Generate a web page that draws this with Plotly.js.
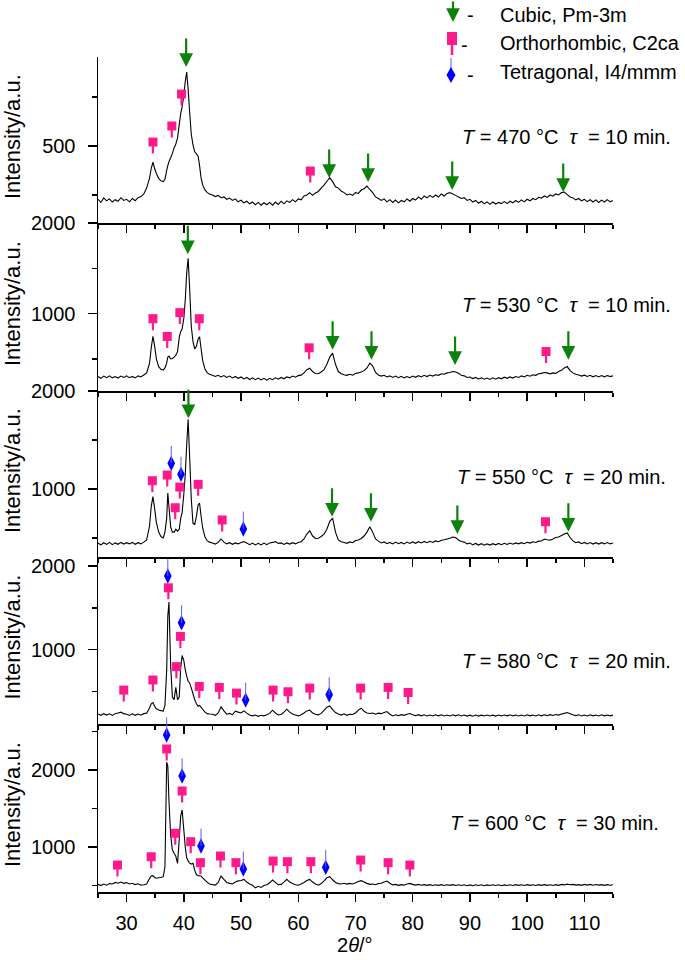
<!DOCTYPE html>
<html><head><meta charset="utf-8">
<script src="https://cdn.plot.ly/plotly-3.0.1.min.js"></script>
<style>html,body{margin:0;padding:0;background:#fff;} #chart{width:685px;height:960px;}</style>
</head><body><div id="chart"></div>
<script>
// ---------- DATA ----------
const twoTheta = [
25,25.5,26,26.5,27,27.5,28,28.5,29,29.5,
30,30.5,31,31.5,32,32.5,33,
33.5,34,34.3,34.6,34.9,35.2,35.6,36,36.4,36.7,
37,37.2,37.4,37.7,38,38.3,38.6,38.9,39.2,39.45,
39.7,40,40.25,40.5,40.75,41,41.3,41.6,41.9,42.2,
42.5,42.75,43,43.3,43.7,44.1,44.5,
45,45.5,46,46.5,47,47.5,48,48.5,49,49.5,
50,50.5,51,51.5,52,52.5,53,53.5,54,54.5,
55,55.5,56,56.5,57,57.5,58,58.5,59,59.5,
60,60.5,61,61.5,62,62.5,63,63.5,64,64.5,
65,65.5,66,66.5,67,67.5,68,68.5,69,69.5,
70,70.5,71,71.5,72,72.5,73,73.5,74,74.5,
75,75.5,76,76.5,77,77.5,78,78.5,79,79.5,
80,80.5,81,81.5,82,82.5,83,83.5,84,84.5,
85,85.5,86,86.5,87,87.5,88,88.5,89,89.5,
90,90.5,91,91.5,92,92.5,93,93.5,94,94.5,
95,95.5,96,96.5,97,97.5,98,98.5,99,99.5,
100,100.5,101,101.5,102,102.5,103,103.5,104,104.5,
105,105.5,106,106.5,107,107.5,108,108.5,109,109.5,
110,110.5,111,111.5,112,112.5,113,113.5,114,114.5,
115];

const intensity470 = [
228,212,235,220,230,214,226,218,236,222,
228,215,232,221,236,242,255,
285,335,385,418,385,360,335,322,318,330,
375,400,420,440,462,490,510,540,610,665,
700,760,830,877,790,680,560,505,470,460,
448,400,340,300,276,262,255,
250,242,248,236,240,228,234,222,230,215,
224,210,218,205,214,200,212,198,210,200,
212,198,214,202,218,205,220,212,226,215,
230,225,245,250,262,248,260,268,285,300,
320,338,318,292,285,270,262,250,255,248,
262,258,275,282,295,278,262,240,232,222,
230,215,226,212,224,210,222,215,230,218,
232,224,240,228,245,235,248,238,250,240,
255,245,258,262,255,248,240,232,236,222,
228,214,222,208,218,205,215,202,214,204,
212,206,216,206,218,210,222,212,225,215,
228,220,232,226,238,234,245,238,250,244,
255,250,262,265,252,240,235,225,232,220,
228,216,226,214,225,212,224,214,226,215,
222];

const intensity530 = [
305,285,310,292,312,290,305,288,310,295,
312,292,306,290,312,300,322,
345,450,620,748,640,500,414,385,375,400,
452,520,530,500,505,520,540,580,740,800,
830,950,1150,1450,1611,1300,860,690,610,640,
720,745,620,480,385,345,330,
320,305,318,300,315,295,310,290,306,285,
300,278,295,272,290,270,288,268,285,265,
285,270,290,275,295,280,300,290,310,298,
315,320,345,380,396,360,338,335,355,380,
440,520,563,440,360,335,325,318,330,320,
338,345,355,370,400,452,420,350,322,310,
318,300,312,295,310,292,308,290,305,292,
310,296,314,300,318,305,322,310,325,318,
335,330,345,350,360,355,340,318,312,295,
300,282,295,278,290,275,288,272,290,276,
292,280,298,285,300,288,305,294,312,300,
318,308,325,318,335,340,350,345,335,345,
340,360,375,400,415,370,345,330,322,310,
320,305,318,302,316,300,315,302,316,304,
312];

const intensity550 = [
448,430,452,435,455,432,450,436,455,438,
452,440,455,436,452,440,458,
480,620,820,922,800,660,560,515,500,560,
700,959,820,612,560,560,590,570,590,700,
760,950,1150,1450,1711,1350,900,650,640,720,
840,855,730,600,510,470,458,
450,438,455,490,458,440,452,436,450,440,
455,463,448,432,448,430,446,430,448,432,
450,455,463,445,450,435,450,438,452,440,
455,462,490,540,575,520,495,498,515,540,
590,670,704,560,480,462,455,446,460,452,
475,480,495,520,560,615,560,490,468,450,
460,442,455,440,458,442,455,440,458,444,
460,446,462,450,465,452,466,455,470,462,
478,482,490,498,510,505,480,465,458,440,
448,430,444,428,442,426,440,428,442,430,
445,432,446,434,448,436,450,440,452,442,
456,448,462,455,468,470,490,482,478,490,
505,510,525,540,551,505,470,452,460,442,
455,440,454,438,452,438,452,440,454,440,
450];

const intensity580 = [
228,212,232,215,230,210,232,240,250,232,
225,210,230,212,228,214,232,
238,300,350,365,320,290,275,268,262,330,
750,1400,1570,800,430,400,546,400,430,780,
928,868,760,680,620,600,540,470,400,350,
320,330,310,285,250,232,228,
225,212,240,313,265,225,235,220,262,250,
240,265,238,215,205,215,200,212,206,218,
235,273,240,217,222,250,285,250,228,215,
205,220,240,265,273,240,225,217,235,270,
310,325,280,245,228,215,230,212,225,222,
240,275,297,260,240,233,240,225,238,232,
245,257,225,205,218,208,220,212,225,233,
218,208,220,206,218,205,216,204,218,206,
218,205,216,204,218,206,218,204,215,203,
214,202,215,203,214,204,216,204,214,203,
215,205,216,206,218,205,215,204,216,205,
218,206,216,205,218,206,218,208,220,210,
222,215,228,235,245,232,218,208,218,205,
216,205,218,206,216,205,218,206,215,205,
215];

const intensity600 = [
515,500,520,505,525,520,540,530,545,528,
538,520,530,512,522,505,510,
520,590,625,628,605,595,600,605,615,744,
2100,2050,1600,1150,961,918,880,788,1100,1400,
1481,1221,1000,860,820,790,779,788,700,640,
630,625,623,600,571,540,520,
512,505,540,623,580,540,528,520,545,560,
565,580,545,520,505,470,490,475,500,510,
535,571,540,510,515,545,580,545,525,510,
505,520,540,565,580,545,520,505,525,560,
600,615,575,540,525,520,530,518,528,520,
535,552,563,545,528,515,520,510,525,530,
545,558,530,508,515,502,512,505,520,528,
515,505,515,503,512,502,512,500,510,502,
512,500,510,502,512,500,510,500,510,498,
508,498,510,500,510,498,508,500,510,500,
510,498,508,500,510,500,512,502,510,500,
512,502,510,500,512,502,512,502,510,500,
512,502,515,508,518,510,515,505,512,502,
515,505,515,504,514,505,512,502,512,504,
510];

// phase markers (x = 2theta, y = intensity position of the marker)
const cubic470X = [40.4, 65.4, 72.2, 86.9, 106.3];
const cubic470Y = [903, 337, 316, 276, 265];
const ortho470X = [34.6, 37.9, 39.6, 62.1];
const ortho470Y = [520, 602, 765, 372];

const cubic530X = [40.7, 66.0, 72.8, 87.4, 107.2];
const cubic530Y = [1655, 600, 489, 433, 489];
const ortho530X = [34.6, 37.1, 39.3, 42.7, 61.9, 103.3];
const ortho530Y = [944, 748, 1011, 944, 622, 581];

const cubic550X = [40.8, 65.9, 72.7, 87.8, 107.2];
const cubic550Y = [1724, 717, 666, 541, 565];
const ortho550X = [34.5, 37.1, 38.5, 39.3, 42.5, 46.7, 103.2];
const ortho550Y = [1085, 1143, 809, 1020, 1048, 684, 666];
const tetra550X = [37.8, 39.5, 50.4];
const tetra550Y = [1262, 1150, 592];

const ortho580X = [29.5, 34.6, 37.3, 38.7, 39.4, 42.7, 46.2, 49.2, 55.6, 58.2, 62.0, 70.9, 75.7, 79.2];
const ortho580Y = [514, 635, 1739, 795, 1157, 558, 546, 478, 514, 494, 538, 538, 546, 485];
const tetra580X = [37.2, 39.6, 50.8, 65.4];
const tetra580Y = [1880, 1321, 394, 458];

const ortho600X = [28.4, 34.3, 37.0, 38.5, 39.7, 41.2, 42.9, 46.4, 49.1, 55.6, 58.1, 62.2, 70.9, 75.7, 79.5];
const ortho600Y = [766, 874, 2273, 1178, 1727, 1069, 797, 883, 797, 818, 810, 810, 831, 797, 766];
const tetra600X = [37.0, 39.7, 43.0, 50.4, 64.8];
const tetra600Y = [2455, 1922, 1013, 714, 736];

const temperatures = ['470', '530', '550', '580', '600'];
const durations = ['10', '10', '20', '20', '30'];
const legendLabels = ['Cubic, Pm-3m', 'Orthorhombic, C2ca', 'Tetragonal, I4/mmm'];

// ---------- LAYOUT / STYLE ----------
const W = 685, H = 960;
const FONT = 'Liberation Sans, Arial, Helvetica, sans-serif';
const GREEN = '#0c820c', PINK = '#ff1a8c', BLUE = '#0000ff', BLUE_STEM = '#5c5cff';
const px = p => p / W;
const py = p => 1 - p / H;

const panels = [
  {y: intensity470, range: [107, 954], dtick: 500, minor: 250, top: 57, bottom: 223, lx: 460, ly: 137,
   cx: cubic470X, cy: cubic470Y, ox: ortho470X, oy: ortho470Y, tx: [], ty: []},
  {y: intensity530, range: [145, 2001], dtick: 1000, minor: 500, top: 223, bottom: 391, lx: 460, ly: 305,
   cx: cubic530X, cy: cubic530Y, ox: ortho530X, oy: ortho530Y, tx: [], ty: []},
  {y: intensity550, range: [306, 2001], dtick: 1000, minor: 500, top: 391, bottom: 557, lx: 455, ly: 477,
   cx: cubic550X, cy: cubic550Y, ox: ortho550X, oy: ortho550Y, tx: tetra550X, ty: tetra550Y},
  {y: intensity580, range: [108, 2108], dtick: 1000, minor: 500, top: 557, bottom: 724, lx: 460, ly: 661,
   cx: [], cy: [], ox: ortho580X, oy: ortho580Y, tx: tetra580X, ty: tetra580Y},
  {y: intensity600, range: [416, 2597], dtick: 1000, minor: 500, top: 724, bottom: 892, lx: 448, ly: 823,
   cx: [], cy: [], ox: ortho600X, oy: ortho600Y, tx: tetra600X, ty: tetra600Y}
];

const data = [];
const annotations = [];
const shapes = [];
const layout = {
  width: W, height: H,
  margin: {l: 0, r: 0, t: 0, b: 0},
  paper_bgcolor: '#fff', plot_bgcolor: '#fff',
  showlegend: false,
  font: {family: FONT, size: 20, color: '#000'},
  annotations: annotations, shapes: shapes
};

panels.forEach((p, i) => {
  const k = i === 0 ? '' : String(i + 1);
  const xr = 'x' + k, yr = 'y' + k;
  const dom = [py(p.bottom), py(p.top)];
  layout['xaxis' + k] = {
    domain: [px(98), px(613)], range: [25, 115], anchor: yr,
    showline: true, linecolor: '#000', linewidth: 1.5,
    ticks: 'outside', ticklen: 8, tickwidth: 1.5, tickcolor: '#000',
    dtick: 10, tick0: 0, showticklabels: i === 4,
    tickfont: {family: FONT, size: 20, color: '#000'}, ticklabelstandoff: 4,
    showgrid: false, zeroline: false, fixedrange: true,
    minor: {dtick: 5, tick0: 0, ticks: 'outside', ticklen: 4, tickwidth: 1.5, tickcolor: '#000', showgrid: false}
  };
  layout['yaxis' + k] = {
    domain: dom, range: p.range, anchor: xr,
    showline: true, linecolor: '#000', linewidth: 1.5,
    ticks: 'outside', ticklen: 9, tickwidth: 1.5, tickcolor: '#000',
    dtick: p.dtick, tick0: 0,
    tickfont: {family: FONT, size: 20, color: '#000'}, ticklabelstandoff: 8,
    showgrid: false, zeroline: false, fixedrange: true,
    minor: {dtick: p.minor, tick0: 0, ticks: 'outside', ticklen: 5, tickwidth: 1.5, tickcolor: '#000', showgrid: false}
  };
  data.push({x: twoTheta, y: p.y, xaxis: xr, yaxis: yr, mode: 'lines',
             line: {color: '#000', width: 1.1, simplify: false}, hoverinfo: 'skip'});
  // orthorhombic squares with stem below
  data.push({x: p.ox, y: p.oy, xaxis: xr, yaxis: yr, mode: 'markers', cliponaxis: false,
             marker: {symbol: 'square', size: 9, color: PINK}, hoverinfo: 'skip'});
  p.ox.forEach((xv, j) => annotations.push({x: xv, y: p.oy[j], xref: xr, yref: yr, text: '',
    showarrow: true, arrowhead: 0, ax: 0, ay: 13, arrowwidth: 2.2, arrowcolor: PINK, standoff: 0}));
  // tetragonal diamonds with thin stem above
  if (p.tx.length) {
    data.push({x: p.tx, y: p.ty, xaxis: xr, yaxis: yr, mode: 'markers', cliponaxis: false,
               marker: {symbol: 'diamond-tall', size: 11, color: BLUE}, hoverinfo: 'skip'});
    p.tx.forEach((xv, j) => annotations.push({x: xv, y: p.ty[j], xref: xr, yref: yr, text: '',
      showarrow: true, arrowhead: 0, ax: 0, ay: -19, arrowwidth: 1, arrowcolor: BLUE_STEM, standoff: 0}));
  }
  // cubic green arrows
  p.cx.forEach((xv, j) => annotations.push({x: xv, y: p.cy[j], xref: xr, yref: yr, text: '',
    showarrow: true, arrowhead: 2, arrowsize: 1.25, arrowwidth: 2.2, ax: 0, ay: -30,
    arrowcolor: GREEN, standoff: 0}));
  // condition label
  annotations.push({xref: 'paper', yref: 'paper', x: px(p.lx), y: py(p.ly), xanchor: 'left', yanchor: 'middle',
    showarrow: false, font: {family: FONT, size: 20, color: '#000'},
    text: '<i>T</i> = ' + temperatures[i] + ' °C\u00a0 <i>τ</i>\u00a0 = ' + durations[i] + ' min.'});
  // y title
  annotations.push({xref: 'paper', yref: 'paper', x: px(12), y: py((p.top + p.bottom) / 2 - 3),
    xanchor: 'center', yanchor: 'middle', textangle: -90, showarrow: false,
    font: {family: FONT, size: 22, color: '#000'}, text: 'Intensity/a.u.'});
});

// x title
annotations.push({xref: 'paper', yref: 'paper', x: px(355), y: py(945), xanchor: 'center', yanchor: 'middle',
  showarrow: false, font: {family: FONT, size: 20, color: '#000'}, text: '2<i>θ</i>/°'});

// legend
annotations.push({xref: 'paper', yref: 'paper', x: px(453), y: py(22), text: '', showarrow: true,
  arrowhead: 2, arrowsize: 1.25, arrowwidth: 2.2, ax: 0, ay: -24, arrowcolor: GREEN, standoff: 0});
shapes.push({type: 'rect', xref: 'paper', yref: 'paper', x0: px(447), x1: px(457), y0: py(45), y1: py(32),
  fillcolor: PINK, line: {width: 0}});
shapes.push({type: 'line', xref: 'paper', yref: 'paper', x0: px(452), x1: px(452), y0: py(55), y1: py(44),
  line: {color: PINK, width: 2.5}});
shapes.push({type: 'line', xref: 'paper', yref: 'paper', x0: px(451), x1: px(451), y0: py(70), y1: py(58),
  line: {color: BLUE_STEM, width: 1}});
shapes.push({type: 'path', xref: 'paper', yref: 'paper', fillcolor: BLUE, line: {width: 0},
  path: 'M' + px(451) + ',' + py(67) + ' L' + px(455.5) + ',' + py(75) + ' L' + px(451) + ',' + py(83) +
        ' L' + px(446.5) + ',' + py(75) + ' Z'});
[[470, 15], [465, 45], [470, 75]].forEach((d, j) => {
  annotations.push({xref: 'paper', yref: 'paper', x: px(d[0]), y: py(d[1]), xanchor: 'center', yanchor: 'middle',
    showarrow: false, font: {family: FONT, size: 20, color: '#000'}, text: '-'});
});
[15, 43, 72].forEach((yy, j) => {
  annotations.push({xref: 'paper', yref: 'paper', x: px(498), y: py(yy), xanchor: 'left', yanchor: 'middle',
    showarrow: false, font: {family: FONT, size: 20, color: '#000'}, text: legendLabels[j]});
});

Plotly.newPlot('chart', data, layout, {staticPlot: true, displayModeBar: false});
</script>
</body></html>
